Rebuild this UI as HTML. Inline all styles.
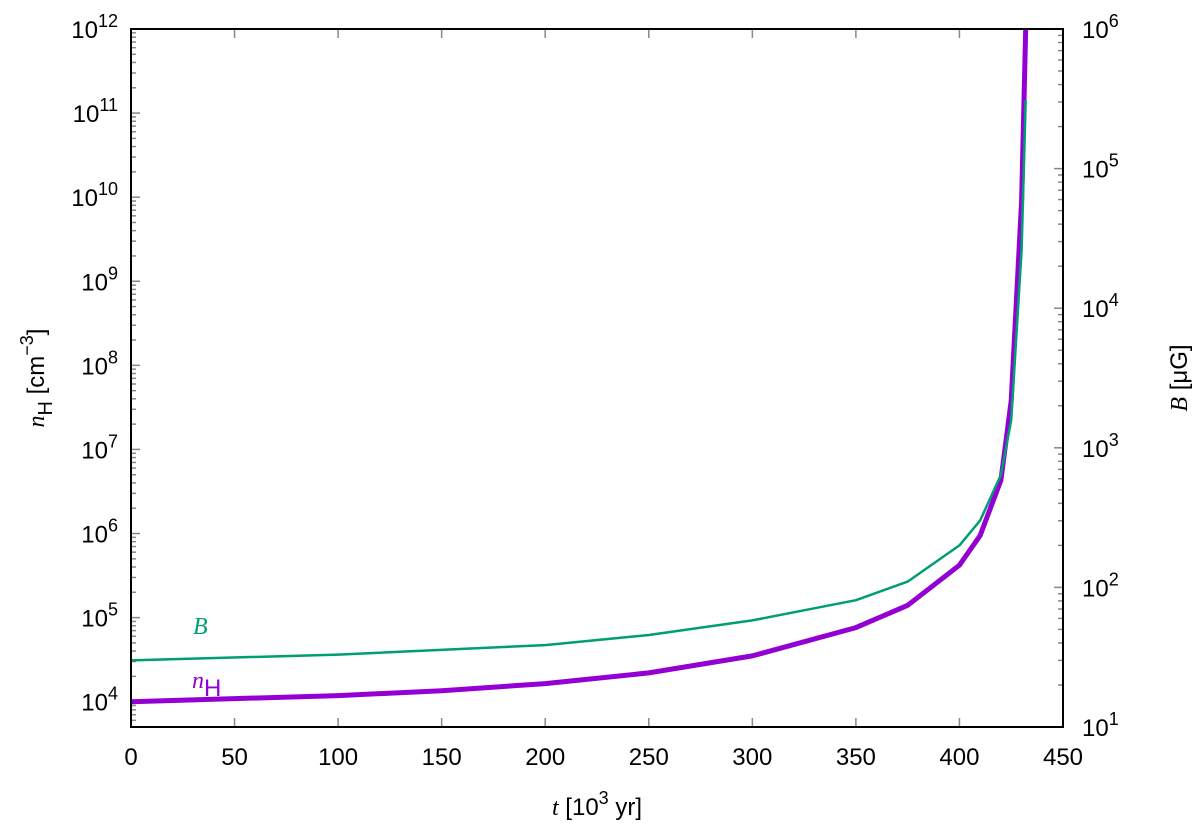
<!DOCTYPE html>
<html><head><meta charset="utf-8"><style>
body{margin:0;background:#fff}
svg text{font-family:"Liberation Sans",sans-serif;font-size:24px;fill:#000}
.it{font-family:"Liberation Serif",serif;font-style:italic}
</style></head><body>
<svg id="c" width="1200" height="831" xmlns="http://www.w3.org/2000/svg"></svg>
<script>
const tVals=[0,100,150,200,250,300,350,375,400,410,420,425,430,432];
const nHVals=[1e4,1.18e4,1.35e4,1.64e4,2.2e4,3.5e4,7.6e4,1.4e5,4.2e5,9.5e5,4.3e6,3.8e7,9e9,1e12];
const tB=[0,100,200,250,300,350,375,400,410,420,425,430,432];
const BVals=[30,33,38.6,45.6,58,81,110,200,302,640,1580,2.6e4,3.1e5];
const xTicks=[0,50,100,150,200,250,300,350,400,450];
const yLeftExp=[4,5,6,7,8,9,10,11,12];
const yRightExp=[1,2,3,4,5,6];
const L=131,R=1063,T=29,B=727;
const lmin=Math.log10(5e3),lmax=12;
const x=t=>L+(t/450)*(R-L);
const yl=v=>B-(Math.log10(v)-lmin)/(lmax-lmin)*(B-T);
const yr=v=>B-(Math.log10(v)-1)/5*(B-T);
const svg=document.getElementById('c');
const NS='http://www.w3.org/2000/svg';
function mk(tag,attrs,parent){const e=document.createElementNS(NS,tag);for(const k in attrs)e.setAttribute(k,attrs[k]);(parent||svg).appendChild(e);return e;}
// ticks
xTicks.forEach(t=>{
  const g=mk('g',{});
  
  
  mk('line',{x1:x(t),x2:x(t),y1:B,y2:B-9,stroke:'#888','stroke-width':1.5},g);
  mk('line',{x1:x(t),x2:x(t),y1:T,y2:T+9,stroke:'#888','stroke-width':1.5},g);
  const tx=mk('text',{x:x(t),y:B+38,'text-anchor':'middle'},g);tx.textContent=t;
});
function logTicks(fy,ds,de,xside,dir){
  for(let d=ds;d<=de;d++){for(let m=1;m<10;m++){const v=m*Math.pow(10,d);const yy=fy(v);if(yy<T-0.5||yy>B+0.5)continue;
    const len=m===1?9:5;
    mk('line',{x1:xside,x2:xside+dir*len,y1:yy,y2:yy,stroke:'#888','stroke-width':1.5});}}
}
logTicks(yl,3,12,L,1);
logTicks(yr,1,6,R,-1);
yLeftExp.forEach(e=>{
  const tx=mk('text',{x:118,y:yl(Math.pow(10,e))+9,'text-anchor':'end'});
  
  
  tx.innerHTML='10<tspan dy="-11" font-size="18">'+e+'</tspan>';
});
yRightExp.forEach(e=>{
  const tx=mk('text',{x:1082,y:yr(Math.pow(10,e))+9,'text-anchor':'start'});
  
  
  tx.innerHTML='10<tspan dy="-11" font-size="18">'+e+'</tspan>';
});
function path(xs,ys,fy,color,w,name){
  let d='';xs.forEach((t,i)=>{d+=(i?'L':'M')+x(t).toFixed(1)+','+fy(ys[i]).toFixed(1);});
  const p=mk('path',{d:d,fill:'none',stroke:color,'stroke-width':w,'stroke-linejoin':'round'});
  
  
}
path(tVals,nHVals,yl,'#9400d3',5,'nh-line');
path(tB,BVals,yr,'#009e73',2.5,'b-line');
mk('rect',{x:L,y:T,width:R-L,height:B-T,fill:'none',stroke:'#000','stroke-width':2});
</script>
<svg width="1200" height="831" style="position:absolute;left:0;top:0" xmlns="http://www.w3.org/2000/svg">
<text class="it" x="193" y="634" fill="#009e73" style="fill:#009e73">B</text>
<text x="192" y="688" style="fill:#9400d3"><tspan class="it" style="font-family:'Liberation Serif',serif;font-style:italic">n</tspan><tspan dy="8">H</tspan></text>
<text x="597" y="815" text-anchor="middle"><tspan style="font-family:'Liberation Serif',serif;font-style:italic">t</tspan> [10<tspan dy="-11" font-size="18">3</tspan><tspan dy="11"> yr]</tspan></text>
<text transform="translate(44,378) rotate(-90)" text-anchor="middle"><tspan style="font-family:'Liberation Serif',serif;font-style:italic">n</tspan><tspan dy="8" font-size="20">H</tspan><tspan dy="-8"> [cm</tspan><tspan dy="-11" font-size="18">−3</tspan><tspan dy="11">]</tspan></text>
<text transform="translate(1187,378) rotate(-90)" text-anchor="middle"><tspan style="font-family:'Liberation Serif',serif;font-style:italic">B</tspan> [μG]</text>
</svg>
<style>body{position:relative}</style>
</body></html>
